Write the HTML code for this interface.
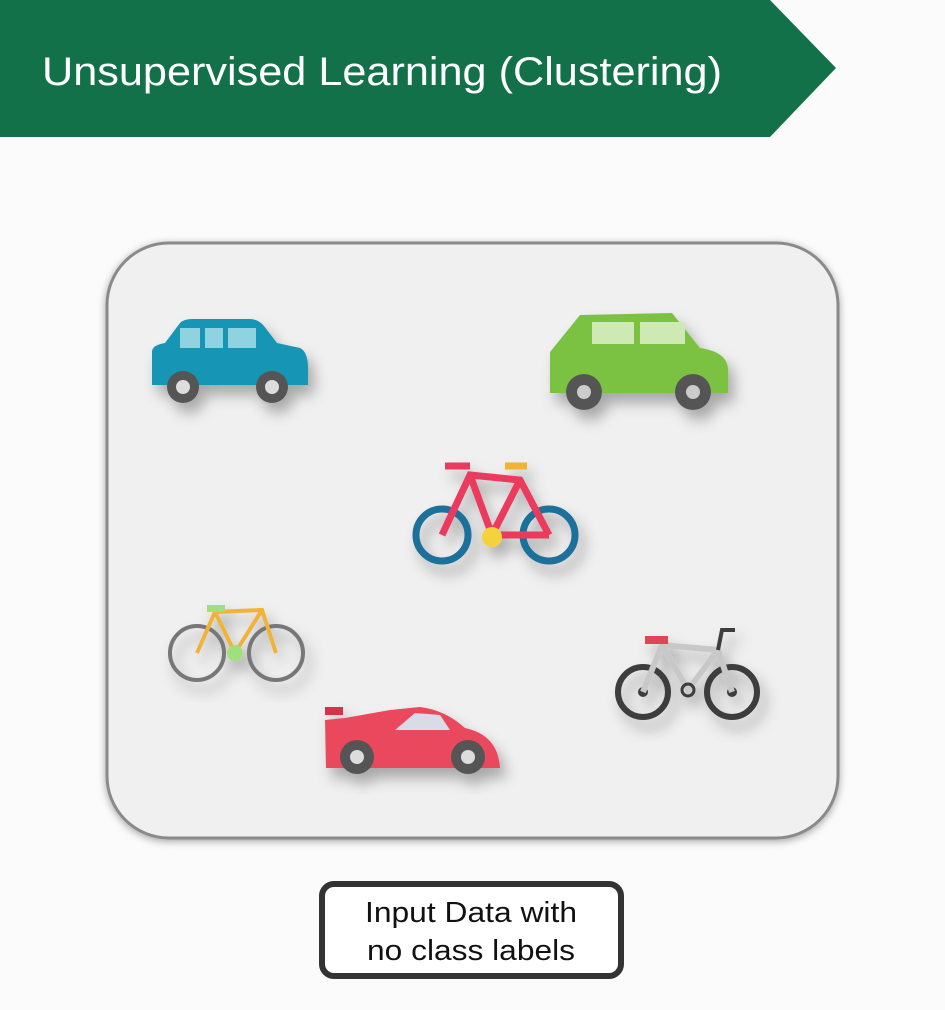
<!DOCTYPE html>
<html><head><meta charset="utf-8"><style>
html,body{margin:0;padding:0;background:#fbfbfb;}
body{width:945px;height:1005px;overflow:hidden;position:relative;font-family:"Liberation Sans",sans-serif;}
</style></head><body>
<svg width="945" height="1005" viewBox="0 0 945 1005" xmlns="http://www.w3.org/2000/svg">
<defs>
<filter id="sh" x="-20%" y="-20%" width="140%" height="150%"><feDropShadow dx="6" dy="10" stdDeviation="7" flood-color="#000" flood-opacity="0.3"/></filter>
<filter id="bs" x="-10%" y="-10%" width="120%" height="120%"><feDropShadow dx="0" dy="2" stdDeviation="4" flood-color="#000" flood-opacity="0.35"/></filter>
</defs>
<g>
<polygon points="0,0 770,0 836,68 770,137 0,137" fill="#137149"/>
<text x="42" y="85" fill="#fff" font-size="40" textLength="680" lengthAdjust="spacingAndGlyphs" font-family="Liberation Sans, sans-serif">Unsupervised Learning (Clustering)</text>
</g>
<rect x="107" y="243" width="731" height="595" rx="62" fill="#f0f0f0" stroke="#8a8a8a" stroke-width="3" filter="url(#bs)"/>

<g filter="url(#sh)">
<path d="M152,352 Q152,345 165,343 L180,323 Q184,319 192,319 L250,319 Q258,319 264,326 L277,343 L300,348 Q308,352 308,368 L308,385 L152,385 Z" fill="#1496b4"/>
<rect x="180" y="328" width="20" height="20" fill="#8fd3e0"/><rect x="205" y="328" width="18" height="20" fill="#8fd3e0"/><rect x="228" y="328" width="28" height="20" fill="#8fd3e0"/>
<circle cx="183" cy="387" r="16" fill="#555"/><circle cx="183" cy="387" r="7" fill="#ddd"/>
<circle cx="272" cy="387" r="16" fill="#555"/><circle cx="272" cy="387" r="7" fill="#ddd"/>
</g>
<g filter="url(#sh)">
<path d="M550,352 L580,315 L672,313 L700,348 Q728,352 728,370 L728,393 L550,393 Z" fill="#7cc242"/>
<rect x="592" y="322" width="42" height="22" fill="#cfe9b4"/><rect x="640" y="322" width="45" height="22" fill="#cfe9b4"/>
<circle cx="584" cy="392" r="18" fill="#555"/><circle cx="584" cy="392" r="7" fill="#ccc"/>
<circle cx="693" cy="392" r="18" fill="#555"/><circle cx="693" cy="392" r="7" fill="#ccc"/>
</g>
<g filter="url(#sh)" fill="none" stroke-width="7">
<circle cx="442" cy="535" r="26" stroke="#1e6f9a"/><circle cx="549" cy="535" r="26" stroke="#1e6f9a"/>
<path d="M442,535 L470,475 L520,480 L549,535 M470,475 L492,535 L520,480 M492,535 L549,535" stroke="#ea3a5d"/>
<line x1="445" y1="466" x2="470" y2="466" stroke="#ea3a5d"/><line x1="505" y1="466" x2="527" y2="466" stroke="#f2b233"/>
<circle cx="492" cy="537" r="10" fill="#f5d23a" stroke="none"/>
</g>
<g filter="url(#sh)" fill="none" stroke-width="4">
<circle cx="197" cy="653" r="27" stroke="#777"/><circle cx="276" cy="653" r="27" stroke="#777"/>
<path d="M197,653 L215,612 L262,610 L276,653 M215,612 L235,653 L262,610" stroke="#f0b23a"/>
<circle cx="235" cy="653" r="8" fill="#9fe07a" stroke="none"/><rect x="207" y="605" width="18" height="7" fill="#9fe07a" stroke="none"/>
</g>
<g filter="url(#sh)">
<path d="M325,720 L345,718 L390,710 L420,707 Q445,710 465,728 Q498,735 500,768 L326,768 Z" fill="#ea4a5d"/>
<rect x="325" y="707" width="18" height="8" fill="#d83048"/>
<path d="M395,730 L415,713 L440,715 L450,730 Z" fill="#d9dbe6"/>
<circle cx="357" cy="757" r="17" fill="#555"/><circle cx="357" cy="757" r="7" fill="#ddd"/>
<circle cx="468" cy="757" r="17" fill="#555"/><circle cx="468" cy="757" r="7" fill="#ddd"/>
</g>
<g filter="url(#sh)" fill="none" stroke-width="6">
<circle cx="643" cy="692" r="25" stroke="#3c3c3c"/><circle cx="732" cy="692" r="25" stroke="#3c3c3c"/>
<circle cx="643" cy="692" r="5" fill="#3c3c3c"/><circle cx="732" cy="692" r="5" fill="#3c3c3c"/>
<path d="M643,692 L662,645 L718,650 L732,692 M662,645 L688,690 L718,650" stroke="#c8c8c8"/>
<line x1="645" y1="640" x2="668" y2="640" stroke="#e04556" stroke-width="8"/>
<path d="M718,650 L722,630 L735,630" stroke="#3c3c3c" stroke-width="4"/>
<circle cx="688" cy="690" r="6" stroke="#3c3c3c" stroke-width="3"/>
</g>
<g>
<rect x="322" y="884" width="299" height="92" rx="12" fill="#fff" stroke="#333" stroke-width="6"/>
<text x="365" y="922" font-size="29" textLength="212" lengthAdjust="spacingAndGlyphs" fill="#111" font-family="Liberation Sans, sans-serif">Input Data with</text>
<text x="367" y="960" font-size="29" textLength="208" lengthAdjust="spacingAndGlyphs" fill="#111" font-family="Liberation Sans, sans-serif">no class labels</text>
</g>
</svg>
</body></html>
